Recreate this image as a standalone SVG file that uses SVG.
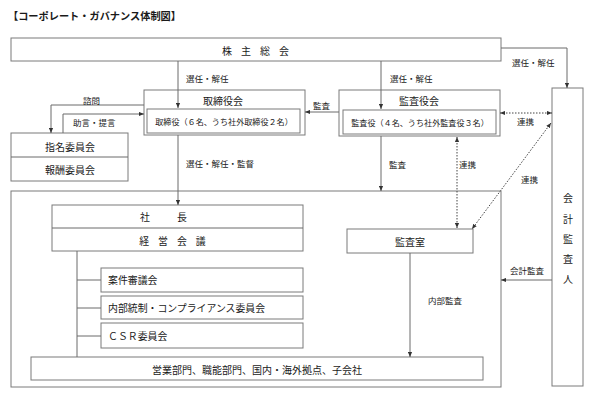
<svg xmlns="http://www.w3.org/2000/svg" width="595" height="403" viewBox="0 0 595 403">
<defs>
<style>
text{font-family:"Noto Sans CJK JP","Noto Sans CJK SC",sans-serif;fill:#1a1a1a;dominant-baseline:central}
.box{fill:#fff;stroke:#7a7a7a;stroke-width:1}
.ln{fill:none;stroke:#6a6a6a;stroke-width:1}
.dot{fill:none;stroke:#444;stroke-width:1;stroke-dasharray:1.5 1.5}
.lb{font-size:8.5px}
.t9{font-size:9.9px}
.t10{font-size:10px}
.m{text-anchor:middle}
</style>
<marker id="a" viewBox="0 0 6 6" refX="6" refY="3" markerWidth="5" markerHeight="5" orient="auto" markerUnits="userSpaceOnUse">
<path d="M0,0.5 L6,3 L0,5.5 z" fill="#333"/>
</marker>
<marker id="as" viewBox="0 0 6 6" refX="0" refY="3" markerWidth="5" markerHeight="5" orient="auto" markerUnits="userSpaceOnUse">
<path d="M6,0.5 L0,3 L6,5.5 z" fill="#333"/>
</marker>
</defs>
<rect width="595" height="403" fill="#fff"/>
<text x="8" y="15" style="font-size:10.2px;font-weight:bold">【コーポレート・ガバナンス体制図】</text>

<g id="big-frame"><rect class="box" x="11" y="191" width="490" height="196"/></g>

<g id="shareholders"><rect class="box" x="11" y="38" width="490" height="23"/>
<text class="t10 m" x="260" y="50" style="letter-spacing:9px">株主総会</text></g>

<g id="board"><rect class="box" x="144" y="90" width="161" height="45"/>
<rect class="box" x="147" y="109" width="153" height="24"/>
<text class="t10 m" x="223" y="100">取締役会</text>
<text class="m" x="224" y="121" style="font-size:8.1px">取締役（６名、うち社外取締役２名）</text></g>

<g id="audit-board"><rect class="box" x="339" y="90" width="161" height="46"/>
<rect class="box" x="343" y="110" width="153" height="24"/>
<text class="t10 m" x="419" y="100">監査役会</text>
<text class="m" x="420" y="122" style="font-size:8.1px">監査役（４名、うち社外監査役３名）</text></g>

<g id="committees"><rect class="box" x="11" y="133" width="117" height="48"/>
<line class="ln" x1="11" y1="157" x2="128" y2="157"/>
<text class="t10 m" x="70" y="146">指名委員会</text>
<text class="t10 m" x="70" y="169">報酬委員会</text></g>

<g id="auditor"><rect class="box" x="552" y="88" width="31" height="298"/>
<text class="t10 m" x="568" y="197">会</text>
<text class="t10 m" x="568" y="218">計</text>
<text class="t10 m" x="568" y="238">監</text>
<text class="t10 m" x="568" y="258">査</text>
<text class="t10 m" x="568" y="278">人</text></g>

<g id="president"><rect class="box" x="52" y="205" width="251" height="46"/>
<line class="ln" x1="52" y1="228" x2="303" y2="228"/>
<text class="t9 m" x="177" y="217" style="letter-spacing:27px">社長</text>
<text class="t9 m" x="177" y="241" style="letter-spacing:9px">経営会議</text></g>

<g id="case-council"><rect class="box" x="101" y="268" width="202" height="24"/>
<text class="t9" x="108" y="280">案件審議会</text></g>
<g id="compliance"><rect class="box" x="101" y="296" width="202" height="23"/>
<text class="t9" x="108" y="308">内部統制・コンプライアンス委員会</text></g>
<g id="csr"><rect class="box" x="101" y="323" width="202" height="25"/>
<text class="t9" x="108" y="336">ＣＳＲ委員会</text></g>

<g id="audit-office"><rect class="box" x="347" y="229" width="126" height="24"/>
<text class="t10 m" x="410" y="241">監査室</text></g>

<g id="divisions"><rect class="box" x="31" y="357" width="452" height="23"/>
<text class="t10 m" x="257" y="369">営業部門、職能部門、国内・海外拠点、子会社</text></g>

<g id="connectors">
<path class="ln" d="M178,61 V108" marker-end="url(#a)"/>
<path class="ln" d="M381,61 V109" marker-end="url(#a)"/>
<path class="ln" d="M501,48 H567 V88" marker-end="url(#a)"/>
<path class="ln" d="M339,112 H305" marker-end="url(#a)"/>
<path class="ln" d="M144,105 H51 V133" marker-end="url(#a)"/>
<path class="ln" d="M63,133 V114 H144" marker-end="url(#a)"/>
<path class="ln" d="M178,135 V205" marker-end="url(#a)"/>
<path class="ln" d="M381,136 V191" marker-end="url(#a)"/>
<path class="dot" d="M457,137 V228" marker-start="url(#as)" marker-end="url(#a)"/>
<path class="dot" d="M500,113 H552" marker-start="url(#as)" marker-end="url(#a)"/>
<path class="dot" d="M551,123 L472,229" marker-start="url(#as)" marker-end="url(#a)"/>
<path class="ln" d="M552,280 H501" marker-end="url(#a)"/>
<path class="ln" d="M410,253 V357" marker-end="url(#a)"/>
<path class="ln" d="M77,251 V357 M77,280 H101 M77,308 H101 M77,336 H101"/>
</g>

<g id="labels">
<text class="lb" x="186" y="78">選任・解任</text>
<text class="lb" x="390" y="78">選任・解任</text>
<text class="lb" x="512" y="62">選任・解任</text>
<text class="lb" x="313" y="105">監査</text>
<text class="lb" x="83" y="100">諮問</text>
<text class="lb" x="73" y="122">助言・提言</text>
<text class="lb" x="186" y="163">選任・解任・監督</text>
<text class="lb" x="389" y="164">監査</text>
<text class="lb" x="459" y="164">連携</text>
<text class="lb" x="517" y="121">連携</text>
<text class="lb" x="521" y="179">連携</text>
<text class="lb" x="510" y="270">会計監査</text>
<text class="lb" x="428" y="300">内部監査</text>
</g>
</svg>
